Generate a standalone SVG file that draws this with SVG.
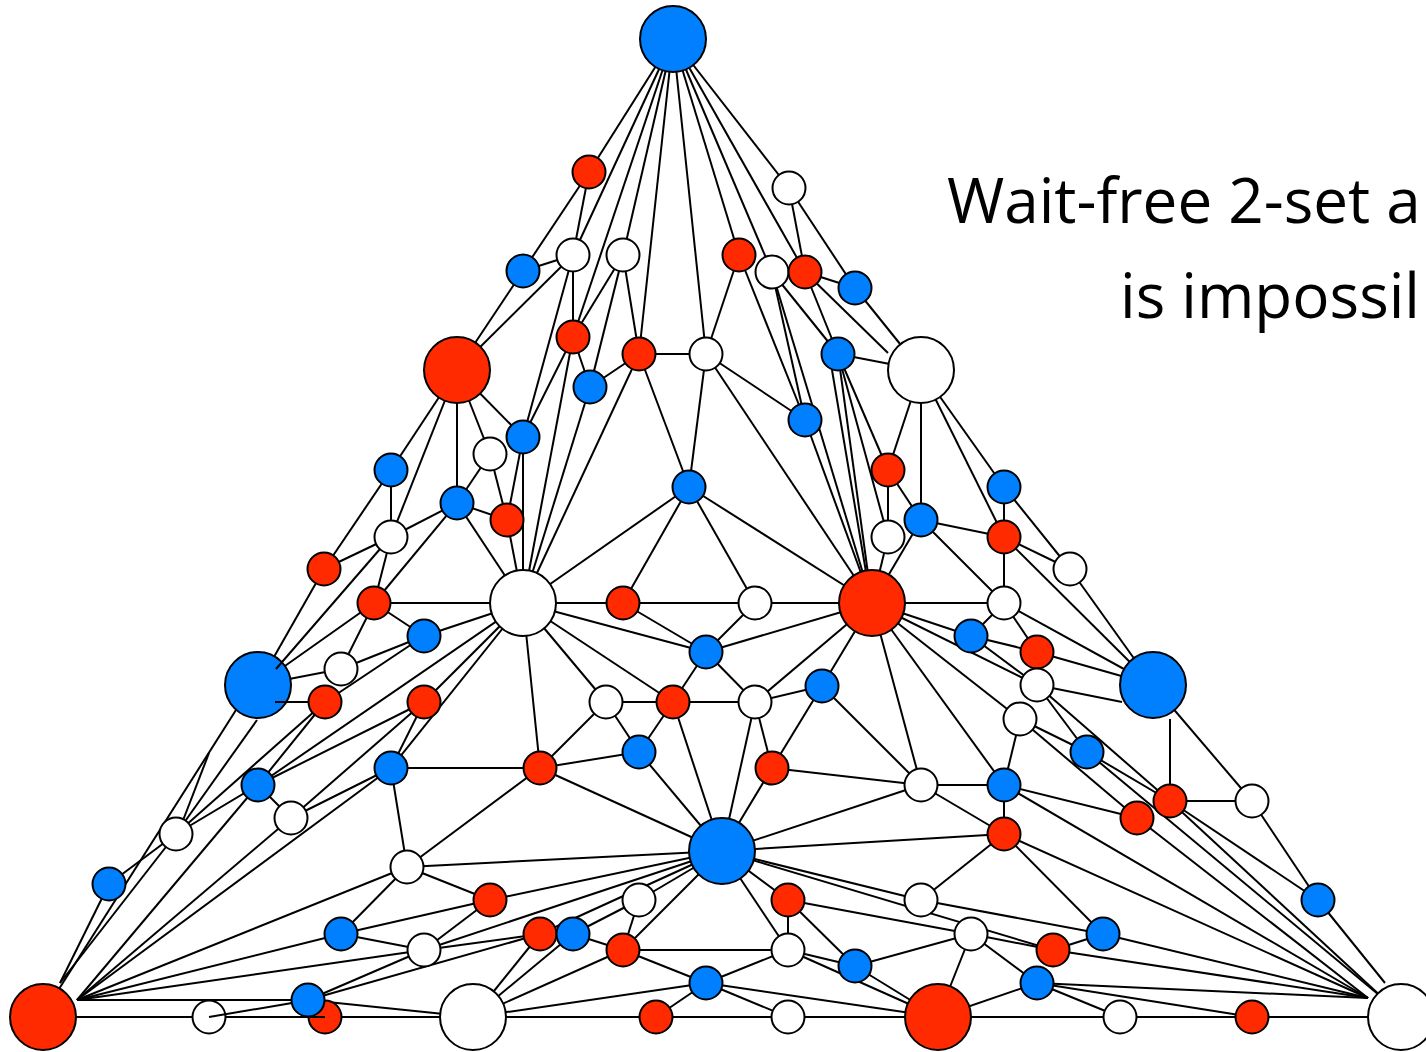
<svg xmlns="http://www.w3.org/2000/svg" width="1426" height="1052" viewBox="0 0 1426 1052">
<style>
  .edges line, .edges polyline, .over line { stroke:#000; stroke-width:2; fill:none; }
  .node circle { stroke:#000; stroke-width:2; }
  .r { fill:#ff2a00; }
  .b { fill:#0080ff; }
  .w { fill:#ffffff; }
  .title { font-family:"Open Sans","Liberation Sans",sans-serif; font-size:62px; fill:#000; }
</style>
<rect width="1426" height="1052" fill="#fff"/>

<g class="edges">
  <!-- apex fan -->
  <line x1="673" y1="39" x2="589" y2="172"/>
  <line x1="673" y1="39" x2="573" y2="255"/>
  <line x1="673" y1="39" x2="573" y2="337"/>
  <line x1="673" y1="39" x2="623" y2="255"/>
  <line x1="673" y1="39" x2="639" y2="354"/>
  <line x1="673" y1="39" x2="706" y2="354"/>
  <line x1="673" y1="39" x2="739" y2="255"/>
  <line x1="673" y1="39" x2="772" y2="272"/>
  <line x1="673" y1="39" x2="805" y2="272"/>
  <line x1="673" y1="39" x2="789" y2="188"/>
  <!-- upper band -->
  <line x1="589" y1="172" x2="573" y2="255"/>
  <line x1="589" y1="172" x2="523" y2="271"/>
  <line x1="523" y1="271" x2="573" y2="255"/>
  <line x1="523" y1="271" x2="457" y2="370"/>
  <line x1="573" y1="255" x2="457" y2="370"/>
  <line x1="573" y1="255" x2="573" y2="337"/>
  <line x1="573" y1="255" x2="523" y2="437"/>
  <line x1="623" y1="255" x2="573" y2="337"/>
  <line x1="623" y1="255" x2="590" y2="387"/>
  <line x1="623" y1="255" x2="639" y2="354"/>
  <line x1="789" y1="188" x2="805" y2="272"/>
  <line x1="789" y1="188" x2="855" y2="288"/>
  <line x1="805" y1="272" x2="855" y2="288"/>
  <line x1="772" y1="272" x2="838" y2="354"/>
  <line x1="805" y1="272" x2="838" y2="354"/>
  <line x1="805" y1="272" x2="888" y2="353"/>
  <line x1="855" y1="288" x2="921" y2="370"/>
  <line x1="739" y1="255" x2="706" y2="354"/>
  <line x1="739" y1="255" x2="805" y2="420"/>
  <line x1="772" y1="272" x2="805" y2="420"/>
  <line x1="772" y1="272" x2="872" y2="603"/>
  <line x1="573" y1="337" x2="523" y2="437"/>
  <line x1="573" y1="337" x2="590" y2="387"/>
  <line x1="573" y1="337" x2="523" y2="603"/>
  <line x1="590" y1="387" x2="639" y2="354"/>
  <line x1="590" y1="387" x2="523" y2="603"/>
  <line x1="639" y1="354" x2="523" y2="603"/>
  <line x1="639" y1="354" x2="706" y2="354"/>
  <line x1="639" y1="354" x2="689" y2="487"/>
  <line x1="706" y1="354" x2="689" y2="487"/>
  <line x1="706" y1="354" x2="805" y2="420"/>
  <line x1="706" y1="354" x2="872" y2="603"/>
  <line x1="838" y1="354" x2="921" y2="370"/>
  <line x1="838" y1="354" x2="888" y2="470"/>
  <line x1="838" y1="354" x2="888" y2="537"/>
  <line x1="838" y1="354" x2="872" y2="603"/>
  <line x1="832" y1="370" x2="866" y2="572"/>
  <line x1="805" y1="420" x2="872" y2="603"/>
  <!-- left shoulder -->
  <line x1="457" y1="370" x2="391" y2="470"/>
  <line x1="457" y1="370" x2="391" y2="537"/>
  <line x1="457" y1="370" x2="457" y2="503"/>
  <line x1="457" y1="370" x2="490" y2="454"/>
  <line x1="457" y1="370" x2="523" y2="437"/>
  <line x1="391" y1="470" x2="391" y2="537"/>
  <line x1="391" y1="470" x2="324" y2="569"/>
  <line x1="391" y1="537" x2="324" y2="569"/>
  <line x1="391" y1="537" x2="457" y2="503"/>
  <line x1="391" y1="537" x2="374" y2="603"/>
  <line x1="457" y1="503" x2="490" y2="454"/>
  <line x1="457" y1="503" x2="507" y2="520"/>
  <line x1="457" y1="503" x2="523" y2="603"/>
  <line x1="457" y1="503" x2="374" y2="603"/>
  <line x1="490" y1="454" x2="507" y2="520"/>
  <line x1="523" y1="437" x2="507" y2="520"/>
  <line x1="523" y1="437" x2="523" y2="603"/>
  <line x1="507" y1="520" x2="523" y2="603"/>
  <!-- right shoulder -->
  <line x1="921" y1="370" x2="921" y2="520"/>
  <line x1="921" y1="370" x2="1004" y2="537"/>
  <line x1="921" y1="370" x2="1004" y2="487"/>
  <line x1="921" y1="370" x2="888" y2="470"/>
  <line x1="888" y1="470" x2="888" y2="537"/>
  <line x1="888" y1="470" x2="921" y2="520"/>
  <line x1="1004" y1="487" x2="1004" y2="537"/>
  <line x1="1004" y1="487" x2="1070" y2="569"/>
  <line x1="921" y1="520" x2="1004" y2="537"/>
  <line x1="921" y1="520" x2="1004" y2="603"/>
  <line x1="1004" y1="537" x2="1070" y2="569"/>
  <line x1="1004" y1="537" x2="1004" y2="603"/>
  <line x1="1004" y1="537" x2="1153" y2="685"/>
  <line x1="1070" y1="569" x2="1153" y2="685"/>
  <line x1="921" y1="520" x2="872" y2="603"/>
  <line x1="888" y1="537" x2="872" y2="603"/>
  <!-- left hub -->
  <line x1="523" y1="603" x2="374" y2="603"/>
  <line x1="523" y1="603" x2="424" y2="636"/>
  <line x1="523" y1="603" x2="689" y2="487"/>
  <line x1="523" y1="603" x2="623" y2="603"/>
  <line x1="523" y1="603" x2="706" y2="652"/>
  <line x1="523" y1="603" x2="673" y2="702"/>
  <line x1="523" y1="603" x2="606" y2="702"/>
  <line x1="523" y1="603" x2="540" y2="768"/>
  <line x1="523" y1="603" x2="391" y2="768"/>
  <line x1="523" y1="603" x2="258" y2="785"/>
  <line x1="523" y1="603" x2="424" y2="702"/>
  <!-- middle band -->
  <line x1="689" y1="487" x2="623" y2="603"/>
  <line x1="689" y1="487" x2="755" y2="603"/>
  <line x1="689" y1="487" x2="872" y2="603"/>
  <line x1="623" y1="603" x2="755" y2="603"/>
  <line x1="755" y1="603" x2="872" y2="603"/>
  <line x1="623" y1="603" x2="706" y2="652"/>
  <line x1="755" y1="603" x2="706" y2="652"/>
  <line x1="706" y1="652" x2="872" y2="603"/>
  <line x1="706" y1="652" x2="673" y2="702"/>
  <line x1="706" y1="652" x2="755" y2="702"/>
  <!-- right hub -->
  <line x1="872" y1="603" x2="1004" y2="603"/>
  <line x1="872" y1="603" x2="971" y2="636"/>
  <line x1="872" y1="603" x2="1037" y2="685"/>
  <line x1="872" y1="603" x2="1020" y2="719"/>
  <line x1="872" y1="603" x2="1004" y2="785"/>
  <line x1="872" y1="603" x2="921" y2="785"/>
  <line x1="872" y1="603" x2="822" y2="686"/>
  <line x1="872" y1="603" x2="755" y2="702"/>
  <line x1="1004" y1="603" x2="971" y2="636"/>
  <line x1="1004" y1="603" x2="1037" y2="652"/>
  <line x1="1004" y1="603" x2="1153" y2="685"/>
  <line x1="971" y1="636" x2="1037" y2="652"/>
  <line x1="971" y1="636" x2="1037" y2="685"/>
  <line x1="1037" y1="652" x2="1153" y2="685"/>
  <line x1="1037" y1="685" x2="1122" y2="702"/>
  <line x1="1037" y1="685" x2="1087" y2="752"/>
  <line x1="1037" y1="685" x2="1170" y2="801"/>
  <line x1="1020" y1="719" x2="1087" y2="752"/>
  <line x1="1020" y1="719" x2="1137" y2="818"/>
  <line x1="1020" y1="719" x2="1004" y2="785"/>
  <line x1="1087" y1="752" x2="1170" y2="801"/>
  <line x1="1087" y1="752" x2="1385" y2="1000"/>
  <line x1="1170" y1="719" x2="1170" y2="801"/>
  <line x1="1153" y1="685" x2="1252" y2="801"/>
  <line x1="1170" y1="801" x2="1252" y2="801"/>
  <line x1="1252" y1="801" x2="1318" y2="900"/>
  <line x1="1318" y1="900" x2="1385" y2="983"/>
  <line x1="1170" y1="801" x2="1318" y2="900"/>
  <line x1="1170" y1="801" x2="1385" y2="1000"/>
  <line x1="1137" y1="818" x2="1368" y2="998"/>
  <line x1="1004" y1="785" x2="1137" y2="818"/>
  <line x1="1004" y1="785" x2="1004" y2="834"/>
  <line x1="1004" y1="785" x2="1368" y2="998"/>
  <line x1="921" y1="785" x2="1004" y2="785"/>
  <line x1="921" y1="785" x2="1004" y2="834"/>
  <line x1="1004" y1="834" x2="722" y2="851"/>
  <line x1="1004" y1="834" x2="921" y2="900"/>
  <line x1="1004" y1="834" x2="1103" y2="934"/>
  <line x1="1004" y1="834" x2="1368" y2="998"/>
  <line x1="1103" y1="934" x2="1053" y2="950"/>
  <line x1="1103" y1="934" x2="1368" y2="998"/>
  <line x1="1053" y1="950" x2="1368" y2="998"/>
  <line x1="921" y1="900" x2="1103" y2="934"/>
  <line x1="971" y1="934" x2="1053" y2="950"/>
  <line x1="971" y1="934" x2="1037" y2="983"/>
  <line x1="971" y1="934" x2="938" y2="1017"/>
  <line x1="1037" y1="983" x2="938" y2="1017"/>
  <line x1="1037" y1="983" x2="1120" y2="1017"/>
  <line x1="1037" y1="983" x2="1252" y2="1017"/>
  <line x1="1037" y1="983" x2="1368" y2="998"/>
  <!-- left flank -->
  <line x1="324" y1="569" x2="258" y2="685"/>
  <line x1="374" y1="603" x2="258" y2="685"/>
  <line x1="341" y1="669" x2="258" y2="685"/>
  <line x1="341" y1="669" x2="374" y2="603"/>
  <line x1="341" y1="669" x2="424" y2="636"/>
  <line x1="374" y1="603" x2="424" y2="636"/>
  <line x1="325" y1="702" x2="424" y2="636"/>
  <line x1="325" y1="702" x2="258" y2="785"/>
  <line x1="325" y1="702" x2="176" y2="834"/>
  <line x1="258" y1="785" x2="424" y2="702"/>
  <line x1="424" y1="702" x2="391" y2="768"/>
  <line x1="424" y1="702" x2="291" y2="818"/>
  <line x1="391" y1="768" x2="540" y2="768"/>
  <line x1="391" y1="768" x2="407" y2="867"/>
  <line x1="391" y1="768" x2="291" y2="818"/>
  <line x1="391" y1="768" x2="77" y2="1000"/>
  <line x1="291" y1="818" x2="258" y2="785"/>
  <line x1="291" y1="818" x2="77" y2="1000"/>
  <line x1="258" y1="785" x2="77" y2="1000"/>
  <line x1="258" y1="785" x2="176" y2="834"/>
  <line x1="176" y1="834" x2="257" y2="720"/>
  <line x1="236" y1="710" x2="52" y2="1000"/>
  <polyline points="209,753 182,823"/>
  <line x1="109" y1="884" x2="176" y2="834"/>
  <line x1="109" y1="884" x2="60" y2="983"/>
  <line x1="176" y1="834" x2="60" y2="983"/>
  <!-- lower left -->
  <line x1="407" y1="867" x2="540" y2="768"/>
  <line x1="407" y1="867" x2="722" y2="851"/>
  <line x1="407" y1="867" x2="490" y2="900"/>
  <line x1="407" y1="867" x2="341" y2="934"/>
  <line x1="407" y1="867" x2="77" y2="1000"/>
  <line x1="341" y1="934" x2="490" y2="900"/>
  <line x1="341" y1="934" x2="424" y2="950"/>
  <line x1="341" y1="934" x2="77" y2="1000"/>
  <line x1="424" y1="950" x2="77" y2="1000"/>
  <line x1="424" y1="950" x2="490" y2="900"/>
  <line x1="424" y1="950" x2="308" y2="1000"/>
  <line x1="424" y1="950" x2="722" y2="851"/>
  <line x1="424" y1="950" x2="540" y2="934"/>
  <line x1="308" y1="1000" x2="540" y2="934"/>
  <line x1="77" y1="1000" x2="308" y2="1000"/>
  <line x1="308" y1="1000" x2="473" y2="1017"/>
  <line x1="43" y1="1017" x2="473" y2="1017"/>
  <!-- lower middle -->
  <line x1="490" y1="900" x2="722" y2="851"/>
  <line x1="540" y1="934" x2="722" y2="851"/>
  <line x1="540" y1="934" x2="473" y2="1017"/>
  <line x1="573" y1="934" x2="473" y2="1017"/>
  <line x1="573" y1="934" x2="639" y2="900"/>
  <line x1="573" y1="934" x2="623" y2="950"/>
  <line x1="639" y1="900" x2="722" y2="851"/>
  <line x1="639" y1="900" x2="623" y2="950"/>
  <line x1="623" y1="950" x2="722" y2="851"/>
  <line x1="623" y1="950" x2="473" y2="1017"/>
  <line x1="623" y1="950" x2="788" y2="950"/>
  <line x1="623" y1="950" x2="706" y2="983"/>
  <line x1="473" y1="1017" x2="706" y2="983"/>
  <line x1="473" y1="1017" x2="1401" y2="1017"/>
  <line x1="656" y1="1017" x2="706" y2="983"/>
  <line x1="706" y1="983" x2="788" y2="950"/>
  <line x1="706" y1="983" x2="788" y2="1017"/>
  <line x1="706" y1="983" x2="938" y2="1017"/>
  <!-- lower hub -->
  <line x1="722" y1="851" x2="639" y2="752"/>
  <line x1="722" y1="851" x2="673" y2="702"/>
  <line x1="722" y1="851" x2="755" y2="702"/>
  <line x1="722" y1="851" x2="772" y2="768"/>
  <line x1="722" y1="851" x2="921" y2="785"/>
  <line x1="722" y1="851" x2="921" y2="900"/>
  <line x1="722" y1="851" x2="1053" y2="950"/>
  <line x1="722" y1="851" x2="788" y2="900"/>
  <line x1="722" y1="851" x2="788" y2="950"/>
  <line x1="722" y1="851" x2="540" y2="768"/>
  <line x1="606" y1="702" x2="540" y2="768"/>
  <line x1="606" y1="702" x2="639" y2="752"/>
  <line x1="673" y1="702" x2="639" y2="752"/>
  <line x1="606" y1="702" x2="673" y2="702"/>
  <line x1="673" y1="702" x2="755" y2="702"/>
  <line x1="755" y1="702" x2="772" y2="768"/>
  <line x1="755" y1="702" x2="822" y2="686"/>
  <line x1="822" y1="686" x2="772" y2="768"/>
  <line x1="822" y1="686" x2="921" y2="785"/>
  <line x1="540" y1="768" x2="639" y2="752"/>
  <line x1="772" y1="768" x2="921" y2="785"/>
  <line x1="788" y1="900" x2="788" y2="950"/>
  <line x1="788" y1="900" x2="855" y2="966"/>
  <line x1="788" y1="900" x2="971" y2="934"/>
  <line x1="788" y1="950" x2="855" y2="966"/>
  <line x1="788" y1="950" x2="938" y2="1017"/>
  <line x1="855" y1="966" x2="938" y2="1017"/>
  <line x1="855" y1="966" x2="971" y2="934"/>
</g>

<g class="nodes">
  <g id="n-apex" class="node"><circle class="b" cx="673" cy="39" r="33"/></g>
  <g id="n01" class="node"><circle class="r" cx="589" cy="172" r="16.5"/></g>
  <g id="n02" class="node"><circle class="w" cx="789" cy="188" r="16.5"/></g>
  <g id="n03" class="node"><circle class="b" cx="523" cy="271" r="16.5"/></g>
  <g id="n04" class="node"><circle class="w" cx="573" cy="255" r="16.5"/></g>
  <g id="n05" class="node"><circle class="w" cx="623" cy="255" r="16.5"/></g>
  <g id="n06" class="node"><circle class="r" cx="739" cy="255" r="16.5"/></g>
  <g id="n07" class="node"><circle class="w" cx="772" cy="272" r="16.5"/></g>
  <g id="n08" class="node"><circle class="r" cx="805" cy="272" r="16.5"/></g>
  <g id="n09" class="node"><circle class="b" cx="855" cy="288" r="16.5"/></g>
  <g id="n10" class="node"><circle class="r" cx="573" cy="337" r="16.5"/></g>
  <g id="n11" class="node"><circle class="r" cx="639" cy="354" r="16.5"/></g>
  <g id="n12" class="node"><circle class="w" cx="706" cy="354" r="16.5"/></g>
  <g id="n13" class="node"><circle class="b" cx="838" cy="354" r="16.5"/></g>
  <g id="n-left-upper" class="node"><circle class="r" cx="457" cy="370" r="33"/></g>
  <g id="n-right-upper" class="node"><circle class="w" cx="921" cy="370" r="33"/></g>
  <g id="n14" class="node"><circle class="b" cx="590" cy="387" r="16.5"/></g>
  <g id="n15" class="node"><circle class="b" cx="805" cy="420" r="16.5"/></g>
  <g id="n16" class="node"><circle class="b" cx="523" cy="437" r="16.5"/></g>
  <g id="n17" class="node"><circle class="w" cx="490" cy="454" r="16.5"/></g>
  <g id="n18" class="node"><circle class="b" cx="391" cy="470" r="16.5"/></g>
  <g id="n19" class="node"><circle class="r" cx="888" cy="470" r="16.5"/></g>
  <g id="n20" class="node"><circle class="b" cx="689" cy="487" r="16.5"/></g>
  <g id="n21" class="node"><circle class="b" cx="1004" cy="487" r="16.5"/></g>
  <g id="n22" class="node"><circle class="b" cx="457" cy="503" r="16.5"/></g>
  <g id="n23" class="node"><circle class="r" cx="507" cy="520" r="16.5"/></g>
  <g id="n24" class="node"><circle class="b" cx="921" cy="520" r="16.5"/></g>
  <g id="n25" class="node"><circle class="w" cx="391" cy="537" r="16.5"/></g>
  <g id="n26" class="node"><circle class="w" cx="888" cy="537" r="16.5"/></g>
  <g id="n27" class="node"><circle class="r" cx="1004" cy="537" r="16.5"/></g>
  <g id="n28" class="node"><circle class="r" cx="324" cy="569" r="16.5"/></g>
  <g id="n29" class="node"><circle class="w" cx="1070" cy="569" r="16.5"/></g>
  <g id="n30" class="node"><circle class="r" cx="374" cy="603" r="16.5"/></g>
  <g id="n-hub-left" class="node"><circle class="w" cx="523" cy="603" r="33"/></g>
  <g id="n31" class="node"><circle class="r" cx="623" cy="603" r="16.5"/></g>
  <g id="n32" class="node"><circle class="w" cx="755" cy="603" r="16.5"/></g>
  <g id="n-hub-right" class="node"><circle class="r" cx="872" cy="603" r="33"/></g>
  <g id="n33" class="node"><circle class="w" cx="1004" cy="603" r="16.5"/></g>
  <g id="n34" class="node"><circle class="b" cx="424" cy="636" r="16.5"/></g>
  <g id="n35" class="node"><circle class="b" cx="971" cy="636" r="16.5"/></g>
  <g id="n36" class="node"><circle class="b" cx="706" cy="652" r="16.5"/></g>
  <g id="n37" class="node"><circle class="r" cx="1037" cy="652" r="16.5"/></g>
  <g id="n38" class="node"><circle class="w" cx="341" cy="669" r="16.5"/></g>
  <g id="n-left-mid" class="node"><circle class="b" cx="258" cy="685" r="33"/></g>
  <g id="n-right-mid" class="node"><circle class="b" cx="1153" cy="685" r="33"/></g>
  <g id="n39" class="node"><circle class="w" cx="1037" cy="685" r="16.5"/></g>
  <g id="n40" class="node"><circle class="b" cx="822" cy="686" r="16.5"/></g>
  <g id="n41" class="node"><circle class="r" cx="325" cy="702" r="16.5"/></g>
  <g id="n42" class="node"><circle class="r" cx="424" cy="702" r="16.5"/></g>
  <g id="n43" class="node"><circle class="w" cx="606" cy="702" r="16.5"/></g>
  <g id="n44" class="node"><circle class="r" cx="673" cy="702" r="16.5"/></g>
  <g id="n45" class="node"><circle class="w" cx="755" cy="702" r="16.5"/></g>
  <g id="n46" class="node"><circle class="w" cx="1020" cy="719" r="16.5"/></g>
  <g id="n47" class="node"><circle class="b" cx="639" cy="752" r="16.5"/></g>
  <g id="n48" class="node"><circle class="b" cx="1087" cy="752" r="16.5"/></g>
  <g id="n49" class="node"><circle class="b" cx="391" cy="768" r="16.5"/></g>
  <g id="n50" class="node"><circle class="r" cx="540" cy="768" r="16.5"/></g>
  <g id="n51" class="node"><circle class="r" cx="772" cy="768" r="16.5"/></g>
  <g id="n52" class="node"><circle class="b" cx="258" cy="785" r="16.5"/></g>
  <g id="n53" class="node"><circle class="w" cx="921" cy="785" r="16.5"/></g>
  <g id="n54" class="node"><circle class="b" cx="1004" cy="785" r="16.5"/></g>
  <g id="n55" class="node"><circle class="r" cx="1170" cy="801" r="16.5"/></g>
  <g id="n56" class="node"><circle class="w" cx="1252" cy="801" r="16.5"/></g>
  <g id="n57" class="node"><circle class="w" cx="291" cy="818" r="16.5"/></g>
  <g id="n58" class="node"><circle class="r" cx="1137" cy="818" r="16.5"/></g>
  <g id="n59" class="node"><circle class="w" cx="176" cy="834" r="16.5"/></g>
  <g id="n60" class="node"><circle class="r" cx="1004" cy="834" r="16.5"/></g>
  <g id="n-hub-low" class="node"><circle class="b" cx="722" cy="851" r="33"/></g>
  <g id="n61" class="node"><circle class="w" cx="407" cy="867" r="16.5"/></g>
  <g id="n62" class="node"><circle class="b" cx="109" cy="884" r="16.5"/></g>
  <g id="n63" class="node"><circle class="r" cx="490" cy="900" r="16.5"/></g>
  <g id="n64" class="node"><circle class="w" cx="639" cy="900" r="16.5"/></g>
  <g id="n65" class="node"><circle class="r" cx="788" cy="900" r="16.5"/></g>
  <g id="n66" class="node"><circle class="w" cx="921" cy="900" r="16.5"/></g>
  <g id="n67" class="node"><circle class="b" cx="1318" cy="900" r="16.5"/></g>
  <g id="n68" class="node"><circle class="b" cx="341" cy="934" r="16.5"/></g>
  <g id="n69" class="node"><circle class="r" cx="540" cy="934" r="16.5"/></g>
  <g id="n70" class="node"><circle class="b" cx="573" cy="934" r="16.5"/></g>
  <g id="n71" class="node"><circle class="w" cx="971" cy="934" r="16.5"/></g>
  <g id="n72" class="node"><circle class="b" cx="1103" cy="934" r="16.5"/></g>
  <g id="n73" class="node"><circle class="w" cx="424" cy="950" r="16.5"/></g>
  <g id="n74" class="node"><circle class="r" cx="623" cy="950" r="16.5"/></g>
  <g id="n75" class="node"><circle class="w" cx="788" cy="950" r="16.5"/></g>
  <g id="n76" class="node"><circle class="r" cx="1053" cy="950" r="16.5"/></g>
  <g id="n77" class="node"><circle class="b" cx="855" cy="966" r="16.5"/></g>
  <g id="n78" class="node"><circle class="b" cx="706" cy="983" r="16.5"/></g>
  <g id="n79" class="node"><circle class="b" cx="1037" cy="983" r="16.5"/></g>
  <g id="n81" class="node"><circle class="r" cx="325" cy="1017" r="16.5"/></g>
  <g id="n80" class="node"><circle class="b" cx="308" cy="1000" r="16.5"/></g>
  <g id="n82" class="node"><circle class="w" cx="209" cy="1017" r="16.5"/></g>
  <g id="n-corner-left" class="node"><circle class="r" cx="43" cy="1017" r="33"/></g>
  <g id="n-base-1" class="node"><circle class="w" cx="473" cy="1017" r="33"/></g>
  <g id="n83" class="node"><circle class="r" cx="656" cy="1017" r="16.5"/></g>
  <g id="n84" class="node"><circle class="w" cx="788" cy="1017" r="16.5"/></g>
  <g id="n-base-2" class="node"><circle class="r" cx="938" cy="1017" r="33"/></g>
  <g id="n85" class="node"><circle class="w" cx="1120" cy="1017" r="16.5"/></g>
  <g id="n86" class="node"><circle class="r" cx="1252" cy="1017" r="16.5"/></g>
  <g id="n-corner-right" class="node"><circle class="w" cx="1401" cy="1017" r="33"/></g>
</g>

<!-- segments that run over the node discs -->
<g class="over">
  <line x1="380" y1="549" x2="276" y2="669"/>
  <line x1="275" y1="702" x2="308" y2="702"/>
  <line x1="209" y1="1017" x2="292" y2="1003"/>
  <line x1="310" y1="1017" x2="325" y2="1017"/>
</g>

<g id="caption">
  <text class="title" x="947" y="223">Wait-free 2-set a</text>
  <text class="title" x="1120" y="318">is impossil</text>
</g>
</svg>
